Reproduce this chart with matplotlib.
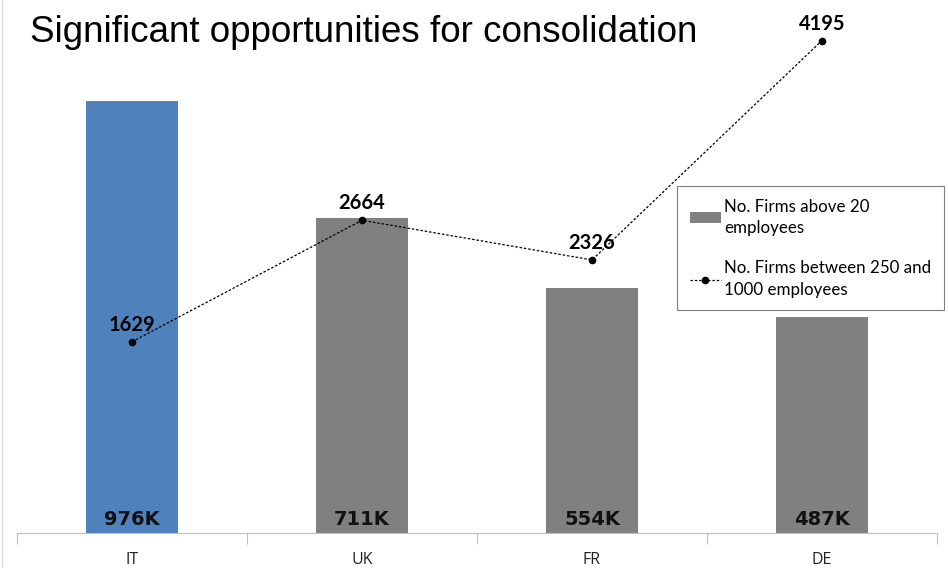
import matplotlib.pyplot as plt
from matplotlib.lines import Line2D
from matplotlib.patches import Patch

countries = ["IT", "UK", "FR", "DE"]
firms_above_20 = [976, 711, 554, 487]          # thousands
firms_250_1000 = [1629, 2664, 2326, 4195]
bar_labels = ["976K", "711K", "554K", "487K"]

BLUE = "#4F81BD"
GREY = "#808080"

fig = plt.figure(figsize=(9.48, 5.68), dpi=100)
W, H = 948, 568
ax = fig.add_axes([17 / W, (H - 533) / H, 920 / W, 523 / H])
ax2 = ax.twinx()

x = list(range(len(countries)))
colors = [BLUE] + [GREY] * (len(countries) - 1)
ax.bar(x, firms_above_20, width=0.4, color=colors, zorder=2)
ax.set_xlim(-0.5, len(countries) - 0.5)
ax.set_ylim(0, 523 / 0.4426)

for xi, lab in zip(x, bar_labels):
    ax.text(xi, 8, lab, ha="center", va="bottom", fontsize=14, fontweight="bold",
            family=["Liberation Sans Narrow", "DejaVu Sans"], color="#111111")

line, = ax2.plot(x, firms_250_1000, linestyle=(0, (2, 1.5)), color="black", lw=0.9,
                 marker="o", markersize=4.5, zorder=3)
ax2.set_ylim(0, 523 / 0.1174)
for xi, v in zip(x, firms_250_1000):
    ax2.annotate(str(v), (xi, v), xytext=(0, 5), textcoords="offset points",
                 ha="center", va="bottom", fontsize=14.5, fontweight="bold",
                 family=["Lato", "DejaVu Sans"])

# axes styling: only a grey baseline with ticks between categories
for a in (ax, ax2):
    for s in ("left", "right", "top"):
        a.spines[s].set_visible(False)
    a.set_yticks([])
ax2.spines["bottom"].set_visible(False)
ax.spines["bottom"].set_color("#BFBFBF")
ax.set_xticks([i - 0.5 for i in range(len(countries) + 1)], minor=False)
ax.set_xticklabels([])
ax.tick_params(axis="x", which="major", length=8, color="#BFBFBF")
ax.set_xticks(x, minor=True)
ax.set_xticklabels(countries, minor=True, fontsize=11.5,
                   family=["Open Sans", "DejaVu Sans"], color="#222222")
ax.tick_params(axis="x", which="minor", length=0, pad=14)

fig.text(30 / W, 1 - 32 / H, "Significant opportunities for consolidation",
         fontsize=26.5, family=["Liberation Sans", "DejaVu Sans"], va="center")

# thin slide border on the left
fig.add_artist(Line2D([2 / W, 2 / W], [0, 1], color="#D9D9D9", lw=1))

handles = [
    Patch(facecolor=GREY, label="No. Firms above 20\nemployees"),
    Line2D([], [], linestyle=(0, (2, 1.5)), color="black", lw=0.9, marker="o",
           markersize=4.5, label="No. Firms between 250 and\n1000 employees"),
]
leg = fig.legend(handles=handles, loc="upper left",
                 bbox_to_anchor=(677 / W, 1 - 186 / H), fancybox=False,
                 edgecolor="#7F7F7F", framealpha=1,
                 prop={"family": ["Lato", "DejaVu Sans"], "size": 12.2},
                 handlelength=1.85, handleheight=0.6, handletextpad=0.2,
                 labelspacing=1.45, borderpad=0.75, borderaxespad=0)
leg.get_frame().set_linewidth(0.8)
for t in leg.get_texts():
    t.set_linespacing(1.4)

fig.savefig("out.png", dpi=100)
